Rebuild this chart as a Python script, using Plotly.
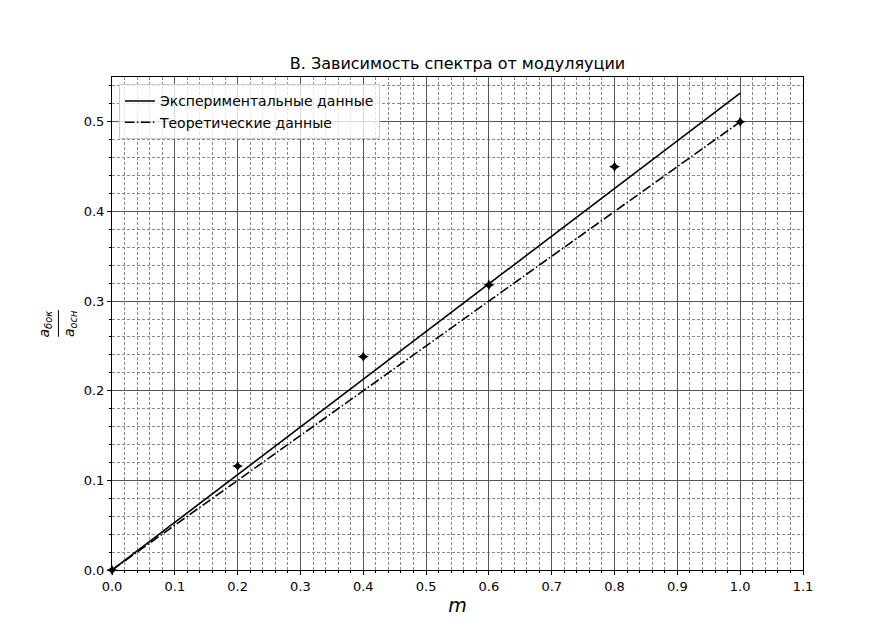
import plotly.graph_objects as go

# Data
m_points = [0.0, 0.2, 0.4, 0.6, 0.8, 1.0]
ratio_points = [0.0, 0.116, 0.238, 0.318, 0.45, 0.5]

exp_line_x = [0.0, 1.0]
exp_line_y = [0.0, 0.532]

theor_x = [0.0, 1.0]
theor_y = [0.0, 0.5]

x_ticks = [0.0, 0.1, 0.2, 0.3, 0.4, 0.5, 0.6, 0.7, 0.8, 0.9, 1.0, 1.1]
y_ticks = [0.0, 0.1, 0.2, 0.3, 0.4, 0.5]

y_label_num = "<i>a</i><sub><i>бок</i></sub>"
y_label_den = "<i>a</i><sub><i>осн</i></sub>"

FONT = "DejaVu Sans"
W, H = 884, 633

fig = go.Figure()
fig.add_trace(go.Scatter(
    x=exp_line_x, y=exp_line_y, mode="lines",
    line=dict(color="black", width=1.6),
    name="Экспериментальные данные",
))
fig.add_trace(go.Scatter(
    x=theor_x, y=theor_y, mode="lines",
    line=dict(color="black", width=1.6, dash="9.6px,2.4px,1.5px,2.4px"),
    name="Теоретические данные",
))
fig.add_trace(go.Scatter(
    x=m_points, y=ratio_points, mode="markers",
    marker=dict(symbol="star-diamond", size=8, color="black"),
    showlegend=False, cliponaxis=False,
))

axis_common = dict(
    showline=True, linecolor="black", linewidth=1, mirror=True,
    ticks="outside", ticklen=4, tickwidth=1, tickcolor="black",
    showgrid=True, gridcolor="#555555", gridwidth=0.8,
    zeroline=False, automargin=False,
    tickfont=dict(family=FONT, size=13, color="black"),
    tickformat=".1f",
)
minor_common = dict(dtick=0.02, showgrid=True, gridcolor="#8a8a8a", griddash="3px,2px",
                    gridwidth=0.7, ticks="outside", ticklen=2, tickcolor="black")

fig.update_xaxes(
    range=[0, 1.1], tickvals=x_ticks, **axis_common, minor=minor_common,
    title=dict(text="<i>m</i>", font=dict(family=FONT, size=19, color="black"), standoff=6),
)
fig.update_yaxes(
    range=[0, 0.55], tickvals=y_ticks, **axis_common, minor=minor_common,
)

# Fraction-style y label
fig.add_annotation(text=y_label_num, xref="paper", yref="paper", x=-0.097, y=0.5,
                   textangle=-90, showarrow=False, xanchor="center", yanchor="middle",
                   font=dict(family=FONT, size=14, color="black"))
fig.add_annotation(text=y_label_den, xref="paper", yref="paper", x=-0.0615, y=0.5,
                   textangle=-90, showarrow=False, xanchor="center", yanchor="middle",
                   font=dict(family=FONT, size=14, color="black"))
fig.add_shape(type="line", xref="paper", yref="paper", x0=-0.0775, x1=-0.0775,
              y0=0.473, y1=0.527, line=dict(color="black", width=1))

fig.update_layout(
    width=W, height=H,
    margin=dict(l=104, r=89, t=69, b=71, autoexpand=False),
    paper_bgcolor="white", plot_bgcolor="white",
    title=dict(text="В. Зависимость спектра от модуляуции",
               font=dict(family=FONT, size=16, color="black"),
               x=0.5, xanchor="center", xref="paper", y=1 - 55/H, yanchor="middle",
               automargin=False),
    legend=dict(x=0.01, y=0.985, xanchor="left", yanchor="top",
                bgcolor="rgba(255,255,255,0.8)", bordercolor="#cccccc", borderwidth=1,
                font=dict(family=FONT, size=14, color="black"),
                tracegroupgap=0, itemwidth=30),
    font=dict(family=FONT),
)

fig.write_html("out.html")
